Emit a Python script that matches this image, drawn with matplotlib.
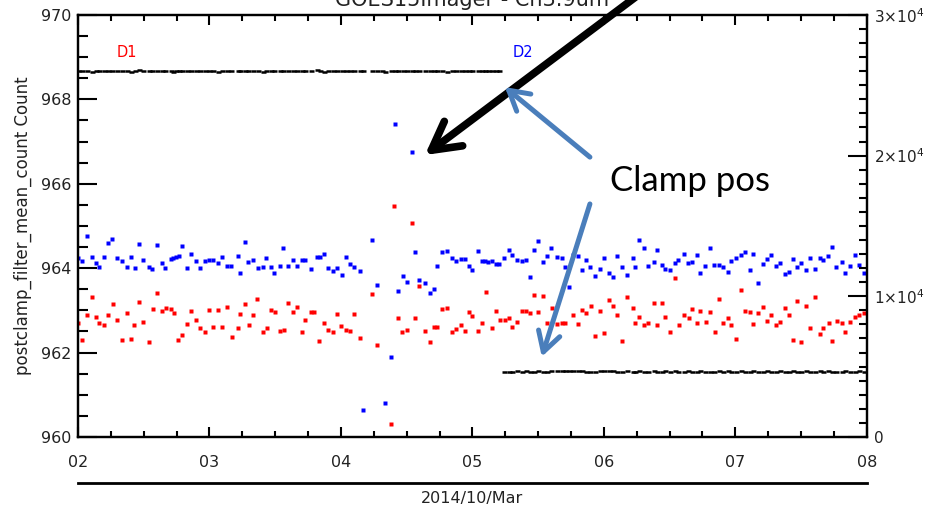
import numpy as np
import matplotlib.pyplot as plt
from matplotlib.ticker import MultipleLocator, FixedLocator

# sample times (day of March 2014) and values
t_blue = [2.000, 2.033, 2.066, 2.104, 2.135, 2.160, 2.200, 2.230, 2.261, 2.294,
          2.332, 2.370, 2.403, 2.433, 2.464, 2.497, 2.540, 2.565, 2.598, 2.641,
          2.662, 2.705, 2.725, 2.743, 2.768, 2.793, 2.827, 2.859, 2.895, 2.928,
          2.966, 2.996, 3.029, 3.062, 3.097, 3.135, 3.161, 3.219, 3.232, 3.272,
          3.295, 3.333, 3.367, 3.405, 3.430, 3.468, 3.493, 3.536, 3.561, 3.599,
          3.637, 3.663, 3.701, 3.726, 3.772, 3.815, 3.840, 3.871, 3.903, 3.937,
          3.972, 4.005, 4.038, 4.068, 4.101, 4.144, 4.170, 4.238, 4.271, 4.310,
          4.335, 4.378, 4.411, 4.431, 4.469, 4.500, 4.542, 4.565, 4.595, 4.641,
          4.677, 4.707, 4.732, 4.770, 4.804, 4.842, 4.875, 4.910, 4.943, 4.973,
          4.998, 5.039, 5.070, 5.095, 5.116, 5.146, 5.176, 5.202, 5.237, 5.275,
          5.303, 5.336, 5.374, 5.405, 5.437, 5.465, 5.500, 5.538, 5.564, 5.599,
          5.640, 5.678, 5.703, 5.734, 5.767, 5.800, 5.830, 5.863, 5.896, 5.932,
          5.967, 6.002, 6.036, 6.071, 6.101, 6.135, 6.173, 6.223, 6.236, 6.268,
          6.304, 6.337, 6.380, 6.408, 6.439, 6.464, 6.502, 6.540, 6.565, 6.608,
          6.641, 6.667, 6.710, 6.735, 6.773, 6.806, 6.839, 6.877, 6.907, 6.941,
          6.971, 7.002, 7.040, 7.072, 7.113, 7.138, 7.173, 7.207, 7.240, 7.275,
          7.308, 7.341, 7.376, 7.409, 7.437, 7.470, 7.503, 7.541, 7.572, 7.605,
          7.643, 7.668, 7.706, 7.736, 7.769, 7.808, 7.838, 7.871, 7.909, 7.941,
          7.977]
blue = [964.23, 964.18, 964.77, 964.26, 964.13, 964.02, 964.26, 964.59, 964.68, 964.25,
        964.17, 964.03, 964.27, 964.00, 964.56, 964.20, 964.03, 963.97, 964.55, 964.11,
        964.00, 964.22, 964.25, 964.27, 964.29, 964.53, 964.00, 964.33, 964.17, 964.00,
        964.17, 964.20, 964.20, 964.13, 964.26, 964.06, 964.06, 964.29, 963.89, 964.61,
        964.15, 964.19, 964.01, 964.03, 964.25, 964.03, 963.89, 964.06, 964.47, 964.05,
        964.19, 964.05, 964.19, 964.19, 963.97, 964.27, 964.26, 964.33, 964.00, 963.92,
        964.00, 963.84, 964.27, 964.10, 964.02, 963.93, 960.64, 964.67, 963.59, 959.95,
        960.81, 961.89, 967.42, 963.46, 963.82, 963.66, 966.74, 964.37, 963.72, 963.64,
        963.42, 963.50, 964.06, 964.37, 964.40, 964.23, 964.16, 964.21, 964.21, 964.06,
        963.95, 964.40, 964.17, 964.17, 964.15, 964.17, 964.10, 964.10, 964.23, 964.42,
        964.32, 964.19, 964.17, 964.20, 963.80, 964.43, 964.65, 964.15, 964.29, 964.47,
        964.26, 964.25, 964.02, 963.56, 964.31, 964.29, 963.95, 964.20, 964.03, 963.82,
        963.98, 964.23, 963.89, 963.79, 964.29, 964.02, 963.84, 964.23, 964.02, 964.67,
        964.47, 964.05, 964.15, 964.44, 964.07, 963.99, 963.95, 964.13, 964.20, 964.33,
        964.11, 964.15, 964.32, 963.89, 964.06, 964.47, 964.07, 964.07, 964.02, 963.91,
        964.17, 964.25, 964.32, 964.37, 963.95, 964.33, 963.65, 964.10, 964.21, 964.32,
        964.05, 964.13, 963.85, 963.91, 964.22, 964.03, 964.13, 963.95, 964.23, 963.99,
        964.25, 964.19, 964.29, 964.50, 964.03, 964.14, 963.89, 964.06, 964.32, 964.07,
        963.89]

t_red = [2.000, 2.033, 2.066, 2.104, 2.135, 2.160, 2.200, 2.230, 2.268, 2.299,
         2.332, 2.375, 2.401, 2.428, 2.464, 2.497, 2.540, 2.568, 2.598, 2.636,
         2.667, 2.707, 2.730, 2.763, 2.793, 2.827, 2.859, 2.895, 2.930, 2.966,
         2.996, 3.029, 3.067, 3.097, 3.135, 3.169, 3.219, 3.232, 3.272, 3.303,
         3.333, 3.361, 3.409, 3.435, 3.468, 3.498, 3.536, 3.567, 3.599, 3.637,
         3.663, 3.706, 3.726, 3.770, 3.795, 3.835, 3.871, 3.903, 3.937, 3.967,
         4.000, 4.038, 4.068, 4.101, 4.144, 4.238, 4.271, 4.378, 4.405, 4.433,
         4.466, 4.500, 4.540, 4.565, 4.595, 4.641, 4.677, 4.707, 4.732, 4.770,
         4.804, 4.842, 4.875, 4.910, 4.943, 4.973, 4.998, 5.039, 5.070, 5.100,
         5.146, 5.176, 5.209, 5.247, 5.278, 5.303, 5.336, 5.374, 5.405, 5.437,
         5.468, 5.500, 5.538, 5.569, 5.602, 5.640, 5.678, 5.703, 5.767, 5.800,
         5.830, 5.868, 5.899, 5.932, 5.967, 6.002, 6.036, 6.071, 6.101, 6.135,
         6.173, 6.223, 6.236, 6.268, 6.304, 6.337, 6.382, 6.408, 6.439, 6.464,
         6.502, 6.545, 6.570, 6.611, 6.646, 6.667, 6.710, 6.735, 6.778, 6.811,
         6.844, 6.877, 6.907, 6.941, 6.971, 7.004, 7.042, 7.072, 7.113, 7.138,
         7.173, 7.207, 7.240, 7.275, 7.308, 7.341, 7.376, 7.409, 7.437, 7.470,
         7.503, 7.541, 7.572, 7.605, 7.643, 7.668, 7.711, 7.736, 7.774, 7.808,
         7.838, 7.876, 7.909, 7.941, 7.977]
red = [962.71, 962.30, 962.90, 963.32, 962.85, 962.71, 962.65, 962.90, 963.14, 962.77,
       962.30, 962.93, 962.33, 962.65, 963.20, 962.73, 962.24, 963.03, 963.42, 962.98,
       963.05, 963.03, 962.94, 962.29, 962.41, 962.67, 962.98, 962.77, 962.59, 962.49,
       963.01, 962.61, 963.01, 962.61, 963.09, 962.37, 962.57, 962.91, 963.16, 962.65,
       962.90, 963.26, 962.49, 962.57, 963.01, 962.95, 962.52, 962.54, 963.18, 962.97,
       963.07, 962.48, 962.77, 962.95, 962.95, 962.27, 962.71, 962.54, 962.48, 962.91,
       962.63, 962.54, 962.50, 962.91, 962.34, 963.39, 962.18, 960.31, 965.48, 962.81,
       962.48, 962.54, 965.08, 962.81, 963.58, 962.50, 962.24, 962.60, 962.61, 963.03,
       963.05, 962.48, 962.56, 962.65, 962.50, 962.95, 962.87, 962.51, 962.71, 963.44,
       962.57, 962.98, 962.77, 962.77, 962.81, 962.61, 962.73, 962.98, 962.98, 962.93,
       963.36, 962.95, 963.35, 962.71, 963.05, 962.67, 962.69, 962.69, 962.89, 962.67,
       963.01, 962.94, 963.11, 962.40, 962.98, 962.47, 963.24, 963.11, 962.89, 962.27,
       963.32, 963.05, 962.71, 962.85, 962.65, 962.71, 963.17, 962.65, 963.17, 962.85,
       962.49, 963.76, 962.65, 962.90, 962.81, 963.02, 962.71, 962.98, 962.73, 962.97,
       962.49, 963.27, 962.71, 962.81, 962.65, 962.33, 963.48, 962.98, 962.95, 962.68,
       962.94, 963.09, 962.75, 962.90, 962.65, 962.73, 963.05, 962.90, 962.30, 963.22,
       962.24, 963.11, 962.57, 963.31, 962.43, 962.57, 962.69, 962.27, 962.75, 962.71,
       962.49, 962.73, 962.85, 962.90, 962.93]

# clamp position (right axis), same sample times as blue
clamp_d1 = [25990, 26020, 26000, 25970, 26010, 26040, 25990, 26000, 26030, 25980,
            26010, 26000, 25960, 26020, 26050, 26000, 25990, 26010, 25980, 26020,
            26000, 26030, 25970, 26000, 26010, 25990, 26040, 26000, 25980, 26010,
            26020, 25990, 26000, 25970, 26030, 26010, 26000, 25980, 26020, 26000,
            25990, 26040, 26010, 25970, 26000, 26020, 25990, 26010, 26000, 26030,
            25980, 26000, 26020, 25990, 26010, 26050, 26000, 25970, 26010, 26000,
            25990, 26020, 26000, 26030, 25980, 26010, 25990, 26000, 26040, 26010,
            25970, 26000, 26020, 25990, 26010, 26000, 26030, 25980, 26000, 26020,
            25990, 26010, 26040, 26000, 25970, 26010, 26000, 25990, 26020, 26000,
            26030, 25980, 26010, 26000, 25990, 26020, 26000, 25980]
clamp_d2 = [4600, 4640, 4620, 4660, 4610, 4650, 4630, 4600, 4660, 4640,
            4620, 4650, 4700, 4680, 4710, 4690, 4720, 4680, 4650, 4640,
            4620, 4600, 4660, 4680, 4700, 4690, 4640, 4620, 4650, 4630,
            4610, 4660, 4640, 4620, 4650, 4600, 4640, 4660, 4620, 4650,
            4630, 4610, 4660, 4640, 4620, 4650, 4600, 4640, 4630, 4660,
            4620, 4650, 4610, 4640, 4660, 4630, 4600, 4650, 4640, 4620,
            4660, 4610, 4640, 4650, 4630, 4620, 4660, 4600, 4640, 4650,
            4620, 4640, 4660, 4610, 4650, 4630, 4640, 4620, 4660, 4640,
            4600, 4650, 4620]

day_ticks = [2, 3, 4, 5, 6, 7, 8]
day_labels = ['02', '03', '04', '05', '06', '07', '08']
right_ticks = [0, 10000, 20000, 30000]
right_labels = ['0', r'$1{\times}10^{4}$', r'$2{\times}10^{4}$', r'$3{\times}10^{4}$']

tc = '#222222'
fig = plt.figure(figsize=(9.29, 5.14), dpi=100)
ax = fig.add_axes([0.084, 0.150, 0.849, 0.821])

ax.plot(t_blue, blue, 's', color='blue', ms=2.8, mec='none')
ax.plot(t_red, red, 's', color='red', ms=2.8, mec='none')
ax.set_xlim(2, 8)
ax.set_ylim(960, 970)

ax.set_xticks(day_ticks)
ax.set_xticklabels(day_labels)
ax.xaxis.set_minor_locator(MultipleLocator(0.25))
ax.yaxis.set_major_locator(MultipleLocator(2))
ax.yaxis.set_minor_locator(MultipleLocator(0.5))
ax.tick_params(axis='x', which='major', direction='in', length=7, width=1.5,
               top=True, labelsize=11.5, pad=13, labelcolor=tc)
ax.tick_params(axis='x', which='minor', direction='in', length=4, width=1.5, top=True)
ax.tick_params(axis='y', which='major', direction='in', length=14, width=1.5,
               right=False, labelsize=11.5, pad=5, labelcolor=tc)
ax.tick_params(axis='y', which='minor', direction='in', length=7, width=1.5, right=False)
ax.set_ylabel('postclamp_filter_mean_count Count', fontsize=12, color=tc, labelpad=6)
for s in ax.spines.values():
    s.set_linewidth(1.6)

ax2 = ax.twinx()
ax2.plot(t_blue[:len(clamp_d1)], clamp_d1, '_', color='black', ms=3.6, mew=1.8)
ax2.plot(t_blue[len(clamp_d1):], clamp_d2, '_', color='black', ms=3.6, mew=1.8)
ax2.set_ylim(0, 30000)
ax2.yaxis.set_major_locator(FixedLocator(right_ticks))
ax2.set_yticklabels(right_labels)
ax2.yaxis.set_minor_locator(MultipleLocator(1000))
ax2.tick_params(axis='y', which='major', direction='in', length=14, width=1.5,
                labelsize=11, pad=5, labelcolor=tc)
ax2.tick_params(axis='y', which='minor', direction='in', length=6, width=1.5)
for s in ax2.spines.values():
    s.set_linewidth(1.6)

# IDL style date axis under the plot
sec = ax.secondary_xaxis(-0.109)
sec.set_xticks([])
sec.spines['bottom'].set_linewidth(2)
sec.set_xlabel('2014/10/Mar', fontsize=11.5, color=tc, labelpad=6)

# title sits at the top edge, partly cut off as in the original
fig.text(0.508, 0.988, 'GOES15Imager - Ch3.9um', ha='center', va='baseline',
         fontsize=15, color=tc)

ax.text(2.373, 969.1, 'D1', color='red', fontsize=10.5, ha='center', va='center')
ax.text(5.384, 969.1, 'D2', color='blue', fontsize=10.5, ha='center', va='center')

# overlay annotations
ax2.annotate('', xy=(4.639, 966.68), xytext=(6.274, 970.5),
             xycoords=ax.transData, textcoords=ax.transData, annotation_clip=False,
             arrowprops=dict(arrowstyle='->,head_length=1.0,head_width=0.55',
                             mutation_scale=20, lw=5.5, color='black',
                             shrinkA=0, shrinkB=0, clip_on=False))
steel = '#4A7EBB'
ax2.annotate('', xy=(5.247, 968.29), xytext=(5.894, 966.63),
             xycoords=ax.transData, textcoords=ax.transData,
             arrowprops=dict(arrowstyle='->,head_length=0.7,head_width=0.4',
                             mutation_scale=20, lw=3.6, color=steel,
                             shrinkA=0, shrinkB=0))
ax2.annotate('', xy=(5.528, 961.9), xytext=(5.894, 965.52),
             xycoords=ax.transData, textcoords=ax.transData,
             arrowprops=dict(arrowstyle='->,head_length=0.7,head_width=0.4',
                             mutation_scale=20, lw=3.6, color=steel,
                             shrinkA=0, shrinkB=0))
ax2.text(6.046, 965.83, 'Clamp pos', transform=ax.transData, fontsize=25,
         family='Lato', color='black', va='baseline', ha='left')

fig.savefig('out.png', dpi=100)
